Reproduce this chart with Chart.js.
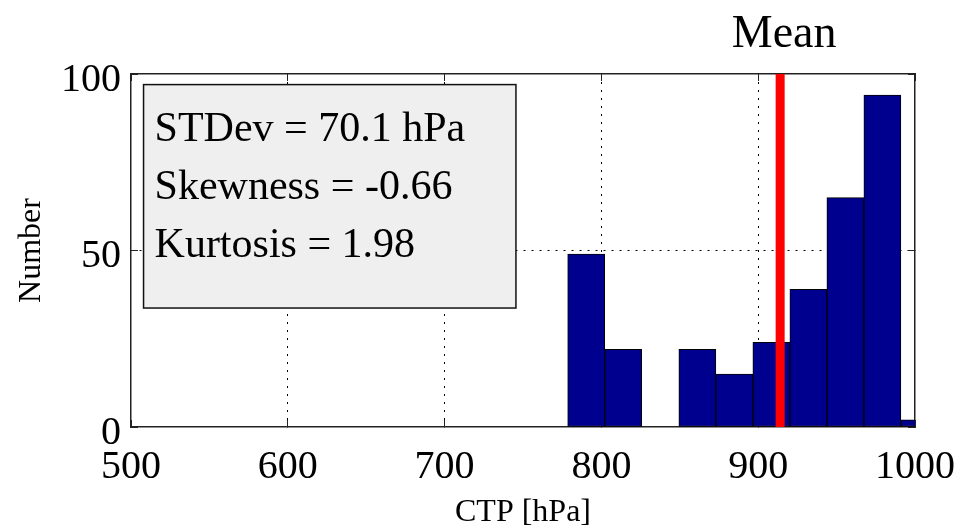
<!DOCTYPE html>
<html>
<head>
<meta charset="utf-8">
<script src="https://cdn.jsdelivr.net/npm/chart.js@4.4.1/dist/chart.umd.min.js"></script>
<style>
  html, body { margin: 0; padding: 0; background: #fff; }
  canvas { display: block; }
</style>
</head>
<body>
<canvas id="mycanvas" width="971" height="527"></canvas>
<script>
// histogram bins (centres, hPa) and counts
var binCenters = [790.3, 813.9, 837.5, 861.2, 884.8, 908.4, 932.0, 955.6, 979.2, 1002.8];
var binCounts = [49, 22, 0, 22, 15, 24, 39, 65, 94, 2];
var meanCTP = 914;
var xTicks = [500, 600, 700, 800, 900, 1000];
var yTicks = [0, 50, 100];
var statLines = ["STDev = 70.1 hPa", "Skewness = -0.66", "Kurtosis = 1.98"];

var serif = "'Liberation Serif', 'Times New Roman', serif";

var histData = binCenters.map(function (c, i) { return { x: c, y: binCounts[i] }; });
var meanData = [{ x: meanCTP, y: 0 }, { x: meanCTP, y: 100 }];

// grey stats box (data coords) and the "Mean" label
var overlay = {
  id: 'overlay',
  afterDatasetsDraw: function (chart) {
    var ctx = chart.ctx, x = chart.scales.x, y = chart.scales.y;
    var l = x.getPixelForValue(508), r = x.getPixelForValue(745.5);
    var t = y.getPixelForValue(97), b = y.getPixelForValue(33.7);
    ctx.save();
    ctx.fillStyle = '#efefef';
    ctx.strokeStyle = '#111';
    ctx.lineWidth = 1.5;
    ctx.fillRect(l, t, r - l, b - t);
    ctx.strokeRect(l, t, r - l, b - t);
    ctx.fillStyle = '#000';
    ctx.font = "42px " + serif;
    ctx.textBaseline = 'alphabetic';
    ctx.textAlign = 'left';
    statLines.forEach(function (s, i) {
      ctx.fillText(s, l + 11, t + 56 + i * 58);
    });
    ctx.font = "46px " + serif;
    ctx.textAlign = 'center';
    ctx.fillText("Mean", x.getPixelForValue(meanCTP) + 4, 47);
    ctx.restore();
  }
};

var edge = function (v, lo, hi) { return v === lo || v === hi; };
var plain = function (v) { return String(v); };
var setTicks = function (list) {
  return function (s) { s.ticks = list.map(function (v) { return { value: v }; }); };
};

var ctx = document.getElementById("mycanvas").getContext("2d");
var chart = new Chart(ctx, {
  type: 'bar',
  data: {
    datasets: [
      {
        type: 'line',
        data: meanData,
        borderColor: '#ff0000',
        borderWidth: 9,
        pointRadius: 0,
        order: 0
      },
      {
        data: histData,
        backgroundColor: '#00008f',
        borderColor: '#000000',
        borderWidth: 1,
        borderSkipped: false,
        barPercentage: 1,
        categoryPercentage: 1,
        clip: 0,
        order: 1
      }
    ]
  },
  options: {
    responsive: false,
    animation: false,
    layout: { padding: { top: 74, right: 56, left: 0, bottom: 0 } },
    plugins: { legend: { display: false }, tooltip: { enabled: false } },
    scales: {
      x: {
        type: 'linear', position: 'bottom', offset: false,
        min: 500, max: 1000,
        afterBuildTicks: setTicks(xTicks),
        afterFit: function (s) { s.height = 100; s.paddingLeft = 0; s.paddingRight = 0; },
        ticks: { font: { family: serif, size: 40 }, color: '#000', padding: 23, maxRotation: 0, autoSkip: false, callback: plain },
        grid: {
          offset: false,
          color: function (c) { return edge(c.tick && c.tick.value, 500, 1000) ? 'rgba(0,0,0,0)' : '#000'; },
          tickColor: '#222', tickLength: -7, lineWidth: 1
        },
        border: { display: true, color: '#222', width: 1.5, dash: [2, 6] },
        title: { display: true, text: 'CTP [hPa]', font: { family: serif, size: 32 }, color: '#000', padding: { top: 0, bottom: -5 } }
      },
      x2: {
        type: 'linear', position: 'top', offset: false,
        min: 500, max: 1000,
        afterBuildTicks: setTicks(xTicks),
        afterFit: function (s) { s.height = 0; s.paddingLeft = 0; s.paddingRight = 0; },
        ticks: { display: false },
        grid: { offset: false, drawOnChartArea: false, tickColor: '#222', tickLength: -7 },
        border: { display: true, color: '#222', width: 1.5 }
      },
      y: {
        type: 'linear', position: 'left',
        min: 0, max: 100,
        afterBuildTicks: setTicks(yTicks),
        afterFit: function (s) { s.width = 131; s.paddingTop = 0; s.paddingBottom = 0; },
        ticks: { font: { family: serif, size: 40 }, color: '#000', padding: 17, labelOffset: 6, callback: plain },
        grid: {
          color: function (c) { return edge(c.tick && c.tick.value, 0, 100) ? 'rgba(0,0,0,0)' : '#000'; },
          tickColor: '#222', tickLength: -7, lineWidth: 1
        },
        border: { display: true, color: '#222', width: 1.5, dash: [2, 6] },
        title: { display: true, text: 'Number', font: { family: serif, size: 32 }, color: '#000', padding: { top: 12, bottom: 0 } }
      },
      y2: {
        type: 'linear', position: 'right',
        min: 0, max: 100,
        afterBuildTicks: setTicks(yTicks),
        afterFit: function (s) { s.width = 0; s.paddingTop = 0; s.paddingBottom = 0; },
        ticks: { display: false },
        grid: { drawOnChartArea: false, tickColor: '#222', tickLength: -7 },
        border: { display: true, color: '#222', width: 1.5 }
      }
    }
  },
  plugins: [overlay]
});
</script>
</body>
</html>
